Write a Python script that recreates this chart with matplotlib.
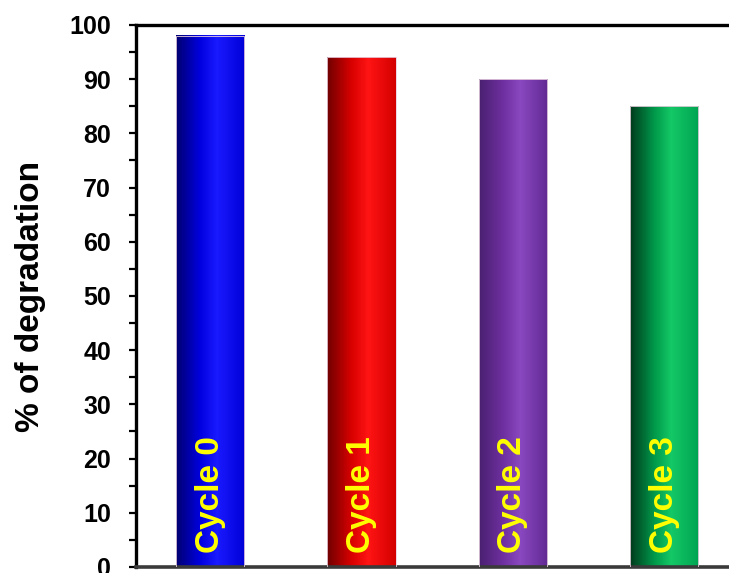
import numpy as np
import matplotlib
matplotlib.use("Agg")
import matplotlib.pyplot as plt
from matplotlib.colors import LinearSegmentedColormap
from matplotlib.ticker import MultipleLocator

plt.rcParams['font.family'] = ['Liberation Sans', 'DejaVu Sans']
plt.rcParams['font.weight'] = 'bold'

# Data
cycles = ["Cycle 0", "Cycle 1", "Cycle 2", "Cycle 3"]
degradation = [98, 94, 90, 85]

# Cylinder-like shading for each bar: left edge, highlight, right edge
bar_shades = [
    ["#000070", "#0000e0", "#1a1aff", "#0000d8"],
    ["#700000", "#d80000", "#ff1414", "#d40000"],
    ["#4a2070", "#6e30a0", "#8a48c0", "#622a94"],
    ["#003a1c", "#00984a", "#14c866", "#00a452"],
]

fig = plt.figure(figsize=(7.29, 5.73), dpi=100)
ax = fig.add_axes([0.1866, 0.0105, 0.849, 0.946])

x = np.arange(len(cycles))
bars = ax.bar(x, degradation, width=0.45, color='none', edgecolor='none', zorder=2)

grad = np.tile(np.linspace(0, 1, 128), (4, 1))
for rect, shades, label in zip(bars, bar_shades, cycles):
    cmap = LinearSegmentedColormap.from_list(
        "shade", list(zip([0.0, 0.35, 0.6, 1.0], shades)))
    x0, w, h = rect.get_x(), rect.get_width(), rect.get_height()
    ax.imshow(grad, cmap=cmap, aspect='auto', extent=[x0, x0 + w, 0, h],
              zorder=2, interpolation='nearest')
    ax.add_patch(plt.Rectangle((x0, 0), w, h, fill=False,
                               edgecolor='#e8d0e0', lw=0.6, zorder=3))
    ax.text(x0 + w / 2, 2.6, label, rotation=90, ha='center', va='bottom',
            color='#ffff00', fontsize=24, fontweight='bold', zorder=4)

ax.set_xlim(-0.49, 3.6)
ax.set_ylim(0, 100)
ax.set_xticks([])

ax.yaxis.set_major_locator(MultipleLocator(10))
ax.yaxis.set_minor_locator(MultipleLocator(5))
ax.tick_params(axis='y', which='major', direction='out', length=5, width=1.6,
               labelsize=18, pad=13)
ax.tick_params(axis='y', which='minor', direction='out', length=5, width=1.6)
for lbl in ax.get_yticklabels():
    lbl.set_fontweight('bold')

ax.spines['right'].set_visible(False)
ax.spines['left'].set_linewidth(2.4)
ax.spines['top'].set_linewidth(2.4)
ax.spines['bottom'].set_linewidth(2.6)
ax.spines['bottom'].set_color('#3a3a3a')

ax.set_ylabel("% of degradation", fontsize=24, fontweight='bold', labelpad=17)

fig.savefig("out.png", dpi=100)
